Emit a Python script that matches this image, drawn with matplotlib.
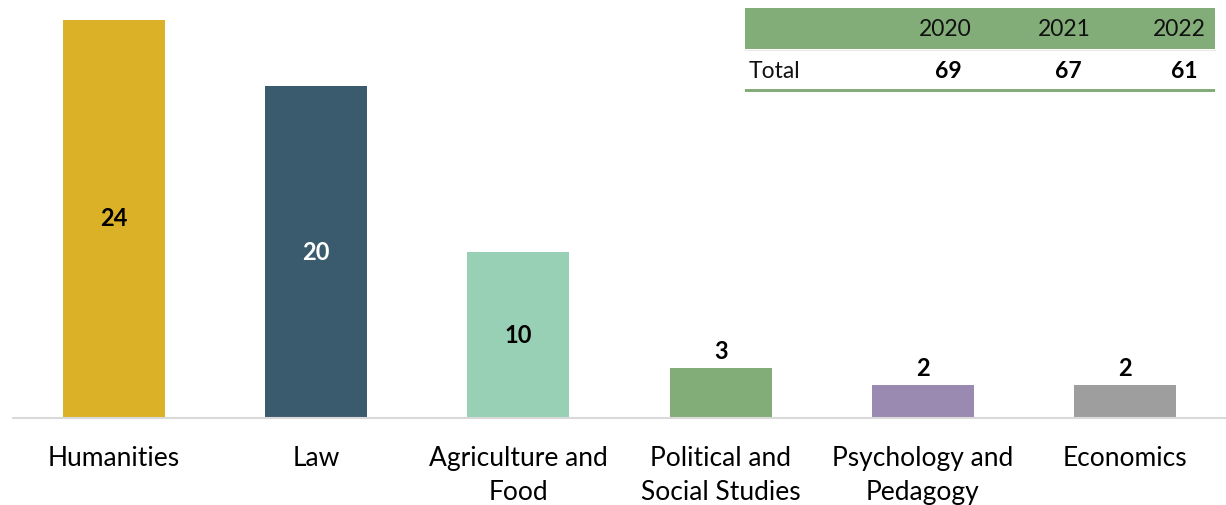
import matplotlib.pyplot as plt
from matplotlib.patches import Rectangle

# data
categories = ["Humanities", "Law", "Agriculture and\nFood", "Political and\nSocial Studies",
              "Psychology and\nPedagogy", "Economics"]
values = [24, 20, 10, 3, 2, 2]
bar_colors = ["#DAB127", "#3A5B6E", "#98D0B5", "#82AD78", "#9A89B0", "#9E9E9E"]
label_colors = ["black", "white", "black", "black", "black", "black"]

years = ["2020", "2021", "2022"]
totals = [69, 67, 61]

W, H = 1226, 505
fig = plt.figure(figsize=(W / 100, H / 100), dpi=100)
ax = fig.add_axes([13 / W, 1 - 418 / H, 1 - 13 / W, 418 / H])

x = range(len(categories))
ax.bar(x, values, width=0.505, color=bar_colors)
ax.set_xlim(-0.5, len(categories) - 0.5)
ax.set_ylim(0, 25.2)

for i, v in enumerate(values):
    if v >= 10:
        ax.text(i, v / 2, str(v), ha="center", va="center", fontsize=17,
                fontweight="bold", color=label_colors[i], family="Lato")
    else:
        ax.text(i, v + 0.3, str(v), ha="center", va="bottom", fontsize=17,
                fontweight="bold", color=label_colors[i], family="Lato")

for s in ["top", "right", "left"]:
    ax.spines[s].set_visible(False)
ax.spines["bottom"].set_color("#D9D9D9")
ax.spines["bottom"].set_linewidth(1.5)
ax.set_yticks([])
ax.set_xticks(list(x))
ax.set_xticklabels(categories, fontsize=19, family="Lato", linespacing=1.45)
ax.tick_params(axis="x", length=0, pad=20)

# small table, top right, in pixel coordinates
tax = fig.add_axes([0, 0, 1, 1])
tax.set_xlim(0, W)
tax.set_ylim(H, 0)
tax.axis("off")
tax.add_patch(Rectangle((745, 8), 470, 41, color="#82AD78", lw=0))
tax.add_patch(Rectangle((745, 88.5), 470, 3, color="#82AD78", lw=0))
tax.plot([745, 1215], [50, 50], color="#E6E6E6", lw=0.6)
col_right = [972, 1091, 1206]
val_right = [962, 1082, 1197]
for xr, y in zip(col_right, years):
    tax.text(xr, 30, y, ha="right", va="center", fontsize=16.5, family="Lato",
             color="#111111")
tax.text(749, 72, "Total", ha="left", va="center", fontsize=16.5, family="Lato",
         color="#111111")
for xr, v in zip(val_right, totals):
    tax.text(xr, 72, str(v), ha="right", va="center", fontsize=16.5, family="Lato",
             fontweight="bold", color="black")

fig.savefig("out.png", dpi=100)
